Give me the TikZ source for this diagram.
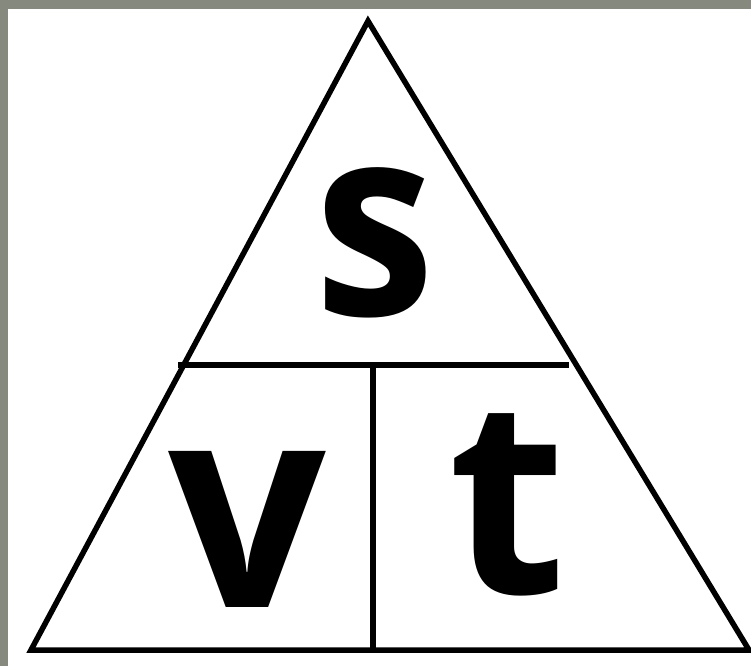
\documentclass[tikz,border=0pt]{standalone}
\usepackage{fontspec}
\setmainfont{Open Sans}
\begin{document}
\begin{tikzpicture}[x=1pt,y=-1pt,
every node/.style={inner sep=0pt,font=\fontsize{286}{286}\selectfont\bfseries},
edge/.style={line width=5.5pt}
]
% frame
\fill[fill={rgb,255:red,134;green,138;blue,126}] (0,0) rectangle (751,666);
\fill[white] (8,9) rectangle (751,666);
\useasboundingbox (0,0) rectangle (751,666);
% triangle
\coordinate (top) at (368,21);
\coordinate (bl) at (31,650);
\coordinate (br) at (749,650);
\coordinate (ml) at (178,365);
\coordinate (mr) at (569,365);
\coordinate (mm) at (373,363);
\coordinate (mb) at (373,650);
\draw[edge] (top) -- (bl) -- (br) -- cycle;
\draw[edge] (ml) -- (mr);
\draw[edge] (mm) -- (mb);
% letters
\node[xscale=0.85,yscale=0.93] (s) at (375,243) {s};
\node[xscale=0.97] (v) at (247,529) {v};
\node[scale=0.95] (t) at (507,505) {t};
\end{tikzpicture}
\end{document}
